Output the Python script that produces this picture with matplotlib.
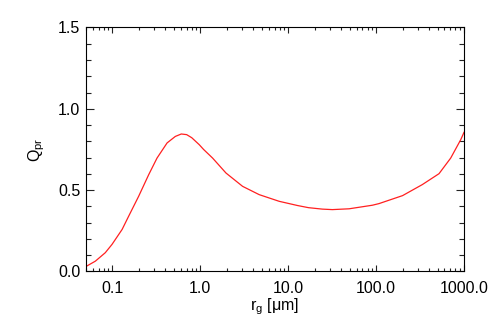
import matplotlib
matplotlib.use('Agg')
import matplotlib.pyplot as plt
from matplotlib.ticker import FixedLocator, NullFormatter, LogLocator

plt.rcParams['font.family'] = ['Liberation Sans', 'DejaVu Sans']
plt.rcParams['mathtext.default'] = 'regular'

# grain radius [um] and radiation pressure efficiency
r_g = [0.05, 0.064, 0.083, 0.099, 0.129, 0.153, 0.199, 0.259, 0.322, 0.419, 0.52,
       0.608, 0.70, 0.80, 0.974, 1.09, 1.38, 1.96, 3.03, 4.68, 7.9, 12.8, 17.0,
       24.5, 31.8, 49.3, 90.8, 108, 200, 336, 520, 706, 918, 1000]
q_pr = [0.03, 0.063, 0.115, 0.166, 0.258, 0.339, 0.462, 0.595, 0.697, 0.79, 0.83,
        0.845, 0.841, 0.822, 0.779, 0.750, 0.697, 0.605, 0.523, 0.472, 0.431, 0.405,
        0.392, 0.383, 0.38, 0.385, 0.407, 0.417, 0.466, 0.534, 0.601, 0.697, 0.81,
        0.855]

x_ticks = [0.1, 1.0, 10.0, 100.0, 1000.0]
x_labels = ['0.1', '1.0', '10.0', '100.0', '1000.0']
y_ticks = [0.0, 0.5, 1.0, 1.5]
y_labels = ['0.0', '0.5', '1.0', '1.5']

fig = plt.figure(figsize=(4.91, 3.27), dpi=100)
ax = fig.add_axes([0.175, 0.170, 0.770, 0.746])

ax.plot(r_g, q_pr, color='#ff2020', lw=0.9)

ax.set_xscale('log')
ax.set_xlim(0.05, 1000)
ax.set_ylim(0, 1.5)

ax.xaxis.set_major_locator(FixedLocator(x_ticks))
ax.set_xticklabels(x_labels)
ax.xaxis.set_minor_locator(LogLocator(base=10, subs=range(2, 10)))
ax.xaxis.set_minor_formatter(NullFormatter())
ax.yaxis.set_major_locator(FixedLocator(y_ticks))
ax.set_yticklabels(y_labels)
ax.yaxis.set_minor_locator(FixedLocator([0.1, 0.2, 0.3, 0.4, 0.6, 0.7, 0.8, 0.9,
                                         1.1, 1.2, 1.3, 1.4]))

ax.tick_params(axis='both', which='both', direction='in', top=True, right=True,
               labelsize=11.5, width=0.8, colors='#222222', labelcolor='black')
ax.tick_params(axis='x', which='major', length=4, pad=7)
ax.tick_params(axis='x', which='minor', length=2.3)
ax.tick_params(axis='y', which='major', length=6, pad=4)
ax.tick_params(axis='y', which='minor', length=3.3)
for s in ax.spines.values():
    s.set_linewidth(0.8)

ax.set_xlabel(r'r$_{g}$ [μm]', fontsize=11.5, labelpad=0)
ax.set_ylabel(r'Q$_{pr}$', fontsize=11.5, labelpad=8)

fig.savefig('out.png', dpi=100)
